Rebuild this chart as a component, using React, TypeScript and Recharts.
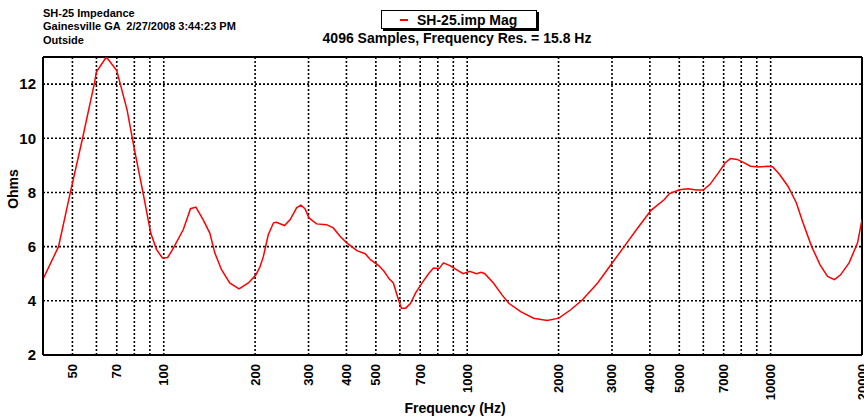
import { LineChart, Line, XAxis, YAxis, CartesianGrid, ReferenceLine } from 'recharts'

// impedance sweep
const freqHz = [
  40, 45, 49, 54, 59, 60, 64.7, 70, 75.7, 80, 85.4, 90.6, 94.6, 99, 103, 107, 116, 122.5, 127.6,
  134.8, 141.8, 147.3, 155, 165, 177, 190, 201, 207.5, 213, 221, 230, 235, 250, 261, 274, 283, 292,
  301, 319, 344, 362, 381, 401, 433, 461, 480, 511, 532, 553, 571, 589, 607, 627, 651, 676, 710, 746,
  774, 808, 835, 877, 922, 969, 1019, 1072, 1113, 1143, 1220, 1302, 1371, 1500, 1655, 1835, 2005,
  2193, 2399, 2691, 2975, 3294, 3646, 4034, 4464, 4640, 5007, 5342, 5695, 5999, 6313, 6735, 7090,
  7370, 7757, 8160, 8587, 9160, 9768, 10150, 10690, 11400, 12150, 12780, 13640, 14550, 15400, 16230,
  17000, 18130, 19340, 20000,
]
const ohms = [
  4.8, 6.0, 7.9, 10.0, 12.0, 12.45, 13.0, 12.5, 11.05, 9.6, 8.0, 6.5, 5.9, 5.58, 5.6, 5.9, 6.63, 7.4, 7.46,
  7.0, 6.5, 5.77, 5.15, 4.66, 4.44, 4.66, 4.95, 5.25, 5.64, 6.44, 6.88, 6.9, 6.78, 7.0, 7.43, 7.53, 7.4,
  7.06, 6.84, 6.81, 6.69, 6.38, 6.14, 5.85, 5.74, 5.52, 5.3, 5.09, 4.81, 4.66, 4.16, 3.73, 3.73, 3.91, 4.29, 4.66, 5.0,
  5.21, 5.19, 5.4, 5.3, 5.15, 5.0, 5.09, 5.0, 5.05, 5.0, 4.66, 4.22, 3.91, 3.6, 3.36, 3.27, 3.36,
  3.67, 4.04, 4.66, 5.33, 6.01, 6.69, 7.34, 7.74, 7.96, 8.1, 8.14, 8.09, 8.09, 8.3, 8.73, 9.1,
  9.25, 9.22, 9.1, 8.97, 8.94, 8.97, 8.95, 8.67, 8.23, 7.62, 6.88, 6.01, 5.33, 4.9, 4.78,
  4.96, 5.4, 6.14, 7.0,
]

const gridFreqs = [
  50, 60, 70, 80, 90, 100, 200, 300, 400, 500, 600, 700, 800, 900, 1000,
  2000, 3000, 4000, 5000, 6000, 7000, 8000, 9000, 10000, 20000,
]
const labeledFreqs = [50, 70, 100, 200, 300, 400, 500, 700, 1000, 2000, 3000, 4000, 5000, 7000, 10000, 20000]
const ohmTicks = [2, 4, 6, 8, 10, 12]

const headerLines = ['SH-25 Impedance', 'Gainesville GA  2/27/2008 3:44:23 PM', 'Outside']
const seriesName = 'SH-25.imp Mag'
const subtitle = '4096 Samples, Frequency Res. = 15.8 Hz'

const FONT = '"Liberation Sans", Arial, sans-serif'

const data = freqHz.map((f, i) => ({ f, z: ohms[i] }))

function FreqTick({ x, y, payload }: any) {
  if (!labeledFreqs.includes(payload.value)) return <g />
  return (
    <text
      transform={`translate(${x},${y}) rotate(-90)`}
      textAnchor="end"
      dominantBaseline="central"
      fontFamily={FONT}
      fontWeight="bold"
      fontSize={13}
      fill="#000"
    >
      {payload.value}
    </text>
  )
}

export default function App() {
  return (
    <div style={{ position: 'absolute', left: 0, top: 0, width: 864, height: 417, background: '#fff' }}>
      <LineChart width={864} height={417} data={data} margin={{ top: 57, right: 2, left: 0, bottom: 0 }}>
        <CartesianGrid stroke="#000" strokeDasharray="2 2" strokeWidth={1.6} />
        <XAxis
          dataKey="f"
          type="number"
          scale="log"
          domain={[40, 20000]}
          allowDataOverflow
          ticks={gridFreqs}
          interval={0}
          tick={<FreqTick />}
          tickLine={false}
          tickSize={0}
          tickMargin={9}
          height={62}
          axisLine={{ stroke: '#000', strokeWidth: 2 }}
        />
        <YAxis
          type="number"
          domain={[2, 13]}
          allowDataOverflow
          ticks={ohmTicks}
          interval={0}
          width={43}
          tickLine={false}
          tickSize={0}
          tickMargin={7}
          tick={{ fill: '#000', fontSize: 15, fontWeight: 'bold', fontFamily: FONT }}
          axisLine={{ stroke: '#000', strokeWidth: 2 }}
        />
        <ReferenceLine y={13} stroke="#000" strokeWidth={2} />
        <ReferenceLine x={20000} stroke="#000" strokeWidth={2} />
        <Line
          dataKey="z"
          type="linear"
          stroke="#ff0000"
          strokeWidth={1.5}
          dot={false}
          isAnimationActive={false}
        />
      </LineChart>

      <svg
        width={864}
        height={417}
        style={{ position: 'absolute', left: 0, top: 0, pointerEvents: 'none' }}
        fontFamily={FONT}
        fontWeight="bold"
      >
        {headerLines.map((t, i) => (
          <text key={i} x={43} y={17 + i * 13.3} fontSize={11} fill="#000" style={{ whiteSpace: 'pre' }}>
            {t}
          </text>
        ))}

        {/* legend box */}
        <rect x={383} y={12} width={156} height={19} fill="#000" />
        <rect x={381.5} y={10.5} width={155} height={18} fill="#fff" stroke="#000" strokeWidth={1} />
        <line x1={400} x2={408} y1={20} y2={20} stroke="#ff0000" strokeWidth={2} />
        <text x={417} y={24.5} fontSize={14} fill="#000">
          {seriesName}
        </text>

        <text x={457} y={42.5} fontSize={14} textAnchor="middle" fill="#000">
          {subtitle}
        </text>

        <text transform="translate(18,189) rotate(-90)" fontSize={14} textAnchor="middle" fill="#000">
          Ohms
        </text>
        <text x={455} y={413} fontSize={14} textAnchor="middle" fill="#000">
          Frequency (Hz)
        </text>
      </svg>
    </div>
  )
}
